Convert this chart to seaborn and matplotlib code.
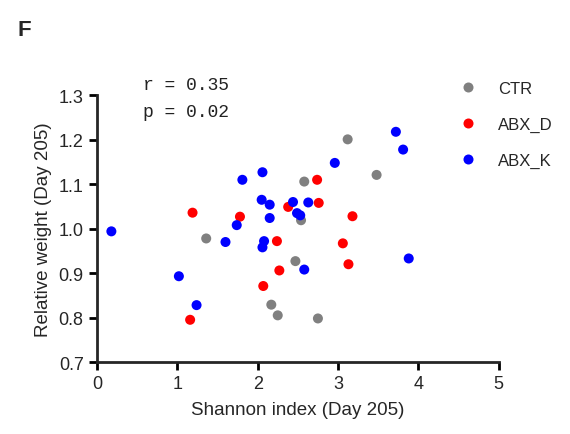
import numpy as np
import pandas as pd
from matplotlib import pyplot as plt
import seaborn as sns

# Shannon index vs relative weight at day 205
ctr_x = [1.36, 2.17, 2.25, 2.47, 2.54, 2.58, 2.75, 3.12, 3.48]
ctr_y = [0.978, 0.829, 0.805, 0.927, 1.019, 1.106, 0.798, 1.201, 1.121]

abxd_x = [1.19, 1.78, 2.38, 2.74, 2.76, 3.18, 3.06, 3.13, 2.24, 2.27, 2.07, 1.16]
abxd_y = [1.036, 1.027, 1.049, 1.110, 1.058, 1.028, 0.967, 0.920, 0.972, 0.906, 0.871, 0.795]

abxk_x = [0.18, 1.02, 1.24, 1.60, 1.74, 2.08, 2.06, 2.15, 1.81, 2.06, 2.05,
          2.15, 2.44, 2.49, 2.53, 2.63, 2.96, 3.72, 3.81, 3.88, 2.58]
abxk_y = [0.994, 0.893, 0.828, 0.970, 1.008, 0.972, 0.958, 1.024, 1.110, 1.127, 1.065,
          1.054, 1.060, 1.035, 1.030, 1.059, 1.148, 1.218, 1.178, 0.933, 0.908]

groups = ["CTR", "ABX_D", "ABX_K"]
colors = ["#808080", "#ff0000", "#0000ff"]

df = pd.concat([
    pd.DataFrame({"shannon": ctr_x, "weight": ctr_y, "group": "CTR"}),
    pd.DataFrame({"shannon": abxd_x, "weight": abxd_y, "group": "ABX_D"}),
    pd.DataFrame({"shannon": abxk_x, "weight": abxk_y, "group": "ABX_K"}),
])

sns.set_style("ticks")
plt.rcParams["font.family"] = ["Liberation Sans", "DejaVu Sans"]

fig = plt.figure(figsize=(5.7, 4.35), dpi=100)
ax = fig.add_axes([0.170, 0.1655, 0.705, 0.613])

sns.scatterplot(data=df, x="shannon", y="weight", hue="group", hue_order=groups,
                palette=colors, s=52, linewidth=0, ax=ax)

ax.set_xlim(0, 5)
ax.set_ylim(0.7, 1.3)
ax.set_xticks(np.arange(0, 6, 1))
ax.set_yticks(np.arange(0.7, 1.31, 0.1))
ax.set_yticklabels([f"{v:.1f}" for v in np.arange(0.7, 1.31, 0.1)])
ax.set_xlabel("Shannon index (Day 205)", fontsize=13.5, labelpad=6)
ax.set_ylabel("Relative weight (Day 205)", fontsize=13.5, labelpad=5)
ax.tick_params(axis="both", labelsize=13, width=2, length=6, color="black")
for side in ["left", "bottom"]:
    ax.spines[side].set_linewidth(2)
sns.despine(ax=ax)

mono = ["Liberation Mono", "DejaVu Sans Mono"]
ax.text(0.575, 1.325, "r = 0.35", family=mono, fontsize=13, va="center", color="#222222")
ax.text(0.575, 1.264, "p = 0.02", family=mono, fontsize=13, va="center", color="#222222")

sns.move_legend(ax, "upper left", bbox_to_anchor=(0.845, 1.11), title=None,
                frameon=False, fontsize=12, labelspacing=1.25, handletextpad=0.8,
                markerscale=1.0)

fig.text(0.03, 0.93, "F", fontsize=16, fontweight="bold", va="center")

fig.savefig("out.png", dpi=100)
